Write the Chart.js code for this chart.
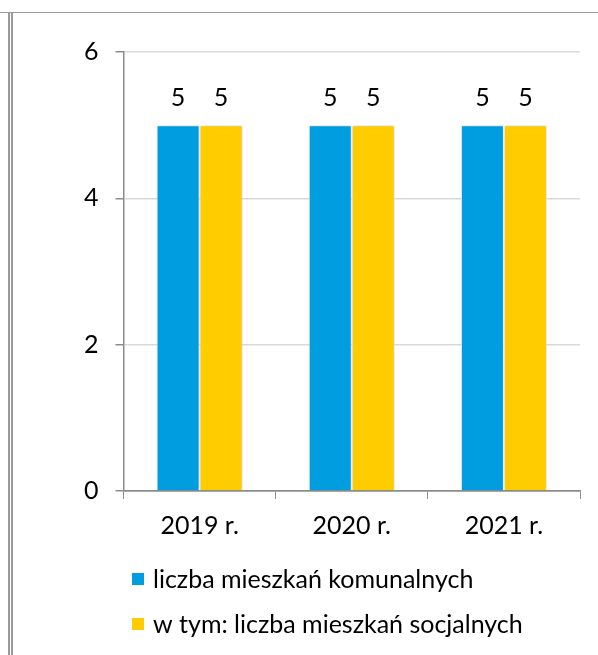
<!DOCTYPE html>
<html>
<head>
<meta charset="utf-8">
<script src="https://cdn.jsdelivr.net/npm/chart.js@4.4.1/dist/chart.umd.min.js"></script>
<style>
  html, body { margin: 0; padding: 0; background: #ffffff; }
  #wrap { position: relative; width: 598px; height: 655px; }
</style>
</head>
<body>
<div id="wrap"><canvas id="c" width="598" height="655"></canvas></div>
<script>
const categories = ['2019 r.', '2020 r.', '2021 r.'];
const seriesNames = ['liczba mieszkań komunalnych', 'w tym: liczba mieszkań socjalnych'];
const komunalne = [5, 5, 5];
const socjalne = [5, 5, 5];
const yTicks = [0, 2, 4, 6];

const FONT = 'Lato, "Open Sans", sans-serif';
const FSIZE = 25;
const colors = ['#009EE0', '#FFCC00'];

const framePlugin = {
  id: 'frame',
  beforeDraw(chart) {
    const ctx = chart.ctx;
    ctx.save();
    ctx.fillStyle = '#ffffff';
    ctx.fillRect(0, 0, chart.width, chart.height);
    ctx.strokeStyle = '#9a9a9a';
    ctx.lineWidth = 1;
    ctx.beginPath();
    ctx.moveTo(0, 12.5); ctx.lineTo(chart.width, 12.5);
    ctx.stroke();
    ctx.lineWidth = 2;
    ctx.beginPath();
    ctx.moveTo(9, 12); ctx.lineTo(9, chart.height);
    ctx.moveTo(12, 12); ctx.lineTo(12, chart.height);
    ctx.stroke();
    ctx.restore();
  }
};

const shadowPlugin = {
  id: 'barShadow',
  beforeDatasetsDraw(chart) {
    const ctx = chart.ctx;
    ctx.save();
    ctx.shadowColor = 'rgba(0,0,0,0.22)';
    ctx.shadowBlur = 4;
  },
  afterDatasetsDraw(chart) {
    chart.ctx.restore();
  }
};

const labelsPlugin = {
  id: 'valueLabels',
  afterDatasetsDraw(chart) {
    const ctx = chart.ctx;
    ctx.save();
    ctx.font = FSIZE + 'px ' + FONT;
    ctx.fillStyle = '#000000';
    ctx.textAlign = 'center';
    ctx.textBaseline = 'alphabetic';
    chart.data.datasets.forEach((ds, i) => {
      const meta = chart.getDatasetMeta(i);
      meta.data.forEach((bar, j) => {
        ctx.fillText(String(ds.data[j]), bar.x, bar.y - 19);
      });
    });
    ctx.restore();
  }
};

const legendPlugin = {
  id: 'customLegend',
  afterDraw(chart) {
    const ctx = chart.ctx;
    ctx.save();
    ctx.font = FSIZE + 'px ' + FONT;
    ctx.textAlign = 'left';
    ctx.textBaseline = 'middle';
    const rows = [579, 624];
    chart.data.datasets.forEach((ds, i) => {
      const y = rows[i];
      ctx.fillStyle = ds.backgroundColor;
      ctx.fillRect(132, y - 6, 12, 12);
      ctx.fillStyle = '#000000';
      ctx.fillText(ds.label, 153, y + 1);
    });
    ctx.restore();
  }
};

new Chart(document.getElementById('c'), {
  type: 'bar',
  data: {
    labels: categories,
    datasets: [
      { label: seriesNames[0], data: komunalne, backgroundColor: colors[0], borderColor: '#ffffff', borderWidth: 1 },
      { label: seriesNames[1], data: socjalne, backgroundColor: colors[1], borderColor: '#ffffff', borderWidth: 1 }
    ]
  },
  options: {
    responsive: false,
    animation: false,
    devicePixelRatio: 1,
    layout: { padding: { left: 67, right: 18, top: 52, bottom: 102 } },
    datasets: { bar: { categoryPercentage: 0.565, barPercentage: 1.0 } },
    plugins: {
      legend: { display: false },
      tooltip: { enabled: false },
      title: { display: false }
    },
    scales: {
      x: {
        offset: true,
        grid: { display: true, drawOnChartArea: false, drawTicks: true, tickLength: 8, tickColor: '#8c8c8c', offset: true },
        border: { display: true, color: '#8c8c8c', width: 1.5 },
        ticks: { color: '#000000', font: { family: FONT, size: FSIZE }, padding: 12 }
      },
      y: {
        min: 0, max: 6,
        afterBuildTicks(scale) { scale.ticks = yTicks.map(v => ({ value: v })); },
        grid: {
          color: ctx => ctx.tick && ctx.tick.value === 0 ? '#8c8c8c' : '#d9d9d9',
          lineWidth: 1.5,
          tickLength: 8, tickColor: '#8c8c8c', drawTicks: true
        },
        border: { display: true, color: '#8c8c8c', width: 1.5 },
        ticks: { color: '#000000', font: { family: FONT, size: FSIZE }, padding: 17 }
      }
    }
  },
  plugins: [framePlugin, shadowPlugin, labelsPlugin, legendPlugin]
});
</script>
</body>
</html>
